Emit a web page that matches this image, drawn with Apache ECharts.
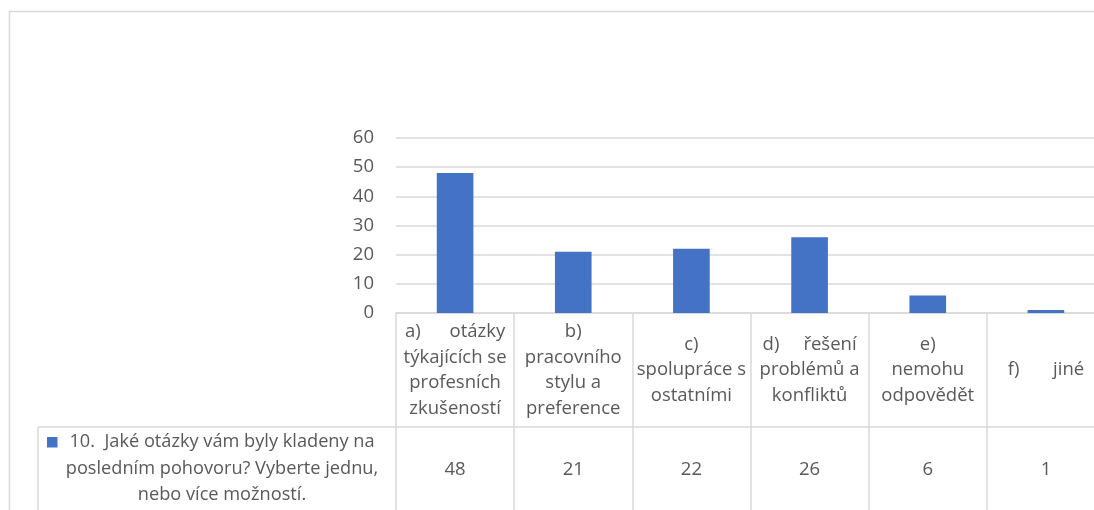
<!DOCTYPE html>
<html>
<head>
<meta charset="utf-8">
<script src="https://cdn.jsdelivr.net/npm/echarts@6/dist/echarts.min.js"></script>
<style>
html,body{margin:0;padding:0;background:#fff;}
#chart{width:1094px;height:510px;}
</style>
</head>
<body>
<div id="chart"></div>
<script>
const categories = [
  "a)      otázky\ntýkajících se\nprofesních\nzkušeností",
  "b)\npracovního\nstylu a\npreference",
  "c)\nspolupráce s\nostatními",
  "d)     řešení\nproblémů a\nkonfliktů",
  "e)\nnemohu\nodpovědět",
  "f)       jiné"
];
const values = [48, 21, 22, 26, 6, 1];
const seriesName = "10.  Jaké otázky vám byly kladeny na\nposledním pohovoru? Vyberte jednu,\nnebo více možností.";
const yTicks = [0, 10, 20, 30, 40, 50, 60];

const FONT = "'Open Sans', sans-serif";
const TXT = '#595959';
const LINE = '#d9d9d9';
const BLUE = '#4472C4';

const chart = echarts.init(document.getElementById('chart'), null, {renderer: 'canvas'});
chart.setOption({
  animation: false,
  backgroundColor: '#fff',
  grid: {left: 396, width: 709, top: 138, bottom: 197, containLabel: false, outerBoundsMode: 'none'},
  xAxis: [
    {
      type: 'category',
      data: categories,
      position: 'bottom',
      axisLine: {show: true, lineStyle: {color: LINE, width: 1.5}},
      axisTick: {show: true, length: 200, lineStyle: {color: LINE, width: 1.5}},
      axisLabel: {
        interval: 0, margin: 57, verticalAlign: 'middle', align: 'center',
        color: TXT, fontFamily: FONT, fontSize: 18.5, lineHeight: 25.5
      },
      splitLine: {show: false}
    },
    {
      type: 'category',
      data: values.map(String),
      position: 'bottom',
      offset: 114,
      axisLine: {show: true, lineStyle: {color: LINE, width: 1.5}},
      axisTick: {show: false},
      axisLabel: {
        interval: 0, margin: 43, verticalAlign: 'middle', align: 'center',
        color: TXT, fontFamily: FONT, fontSize: 18.5
      },
      splitLine: {show: false}
    }
  ],
  yAxis: {
    type: 'value',
    min: yTicks[0], max: yTicks[yTicks.length - 1], interval: 10,
    axisLine: {show: false},
    axisTick: {show: false},
    axisLabel: {color: TXT, fontFamily: FONT, fontSize: 18.5, margin: 22},
    splitLine: {lineStyle: {color: LINE, width: 1.5}}
  },
  series: [{
    name: seriesName,
    type: 'bar',
    xAxisIndex: 0,
    data: values,
    barWidth: '31%',
    itemStyle: {color: BLUE}
  }],
  graphic: [
    {type: 'rect', shape: {x: 9.5, y: 11.5, width: 1200, height: 600},
     style: {fill: 'none', stroke: LINE, lineWidth: 1.5}, silent: true},
    {type: 'line', shape: {x1: 38, y1: 427, x2: 396, y2: 427},
     style: {stroke: LINE, lineWidth: 1.5}, silent: true},
    {type: 'line', shape: {x1: 38, y1: 427, x2: 38, y2: 520},
     style: {stroke: LINE, lineWidth: 1.5}, silent: true},
    {type: 'rect', shape: {x: 47, y: 437, width: 10.5, height: 10.5},
     style: {fill: BLUE}, silent: true},
    {type: 'text', x: 222, y: 429,
     style: {text: seriesName, fill: TXT, font: "18.2px " + FONT, align: 'center',
             verticalAlign: 'top', lineHeight: 26.5},
     silent: true}
  ]
});
</script>
</body>
</html>
